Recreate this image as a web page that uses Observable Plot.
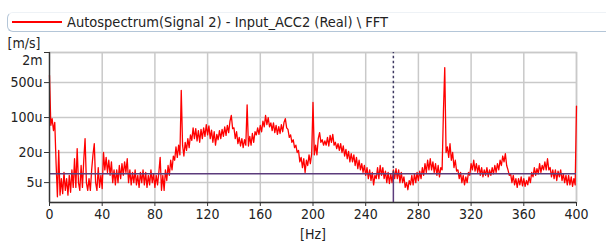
<!DOCTYPE html>
<html><head><meta charset="utf-8">
<script src="https://cdn.jsdelivr.net/npm/d3@7"></script>
<script src="https://cdn.jsdelivr.net/npm/@observablehq/plot@0.6"></script>
<style>
body{margin:0;background:#fff;}
#wrap{position:relative;width:606px;height:242px;font-family:"DejaVu Sans Condensed","DejaVu Sans",sans-serif;color:#222;}
#legend{position:absolute;left:7px;top:12px;width:599px;height:20px;box-sizing:border-box;border:1px solid #b4c6d8;border-top-color:#eef2f6;border-right:none;border-radius:6px 0 0 6px;}
#legend .sw{position:absolute;left:4px;top:8px;width:50px;height:1.5px;background:#ff0000;}
#legend .tx{position:absolute;left:59px;top:0px;font-size:14.5px;line-height:18px;white-space:nowrap;}
#chart{position:absolute;left:0;top:0;}
</style>
</head><body>
<div id="wrap">
  <div id="chart"></div>
  <div id="legend"><span class="sw"></span><span class="tx">Autospectrum(Signal 2) - Input_ACC2 (Real) \ FFT</span></div>
</div>
<script>
// Autospectrum amplitude, µ(m/s), at 1 Hz steps from 0 to 400 Hz
const amplitudeMicro = [
700,70,95,55,80,12,2.6,22,2.8,6,
3,8,3.5,6,2.8,7,3.2,9,4,15,
4,24,5,3.5,11,4,14,38,5,3.5,
6,3.5,9,18,30,5,3.5,10,4,7,
3.8,20,9,16,8,14,7,13,5,9,
4.5,9,5,11,6,12,7,13,8,15,
5,9,4.5,8,5,9,4.5,7,4,8,
5,9,4.5,8,4,7,4.5,9,5,7.5,
4,7,4.5,8,16,3.5,7,3.5,9,5.5,
11,7,14,9,17,14,26,16,28,18,
350,28,17,32,22,38,25,45,35,62,
38,60,34,55,32,58,38,62,42,72,
45,68,38,56,32,52,28,46,36,55,
38,58,42,65,44,70,50,85,110,60,
62,38,52,30,40,27,38,25,36,28,
180,27,42,28,48,32,52,45,62,46,
70,52,85,65,110,72,100,65,78,55,
78,50,70,46,66,48,72,52,80,95,
62,58,40,45,32,36,25,28,20,22,
13,16,10,15,8,14,11,18,12,19,
200,18,28,18,38,50,32,36,28,34,
28,40,27,44,32,46,28,32,24,30,
22,30,20,27,17,23,15,21,13,19,
13,18,11,16,9.5,14,9,12,8,11,
7,10,6,9,5.5,8,4.5,7,6,10,
6,11,7,10,6,8.5,5,8,4.8,7.5,
5,9,6,9.5,6,9,5,8,5,6.5,
4,5,3.6,5.5,4.5,7,4.5,7.5,5,8,
5.5,8.5,6,10,7,12,8,14,9,15,
9,13,8,12,7,11,6.5,10,9,130,
1000,20,26,16,30,14,20,10,14,8.5,
9,6,8,5,7,4.5,6.5,5,8,7,
12,9,14,8.5,12,8,11,7,10,6.5,
9,7,10,6.5,9,7,10,7.5,11,8,
12,9,14,11,17,13,19,11,9,7,
7.5,5,7,4.5,6,4,6,4.5,6.5,4.3,
6,4.2,5.5,4.5,6.5,5,8,6.5,10,7,
9.5,7.5,12,8,11,9,13,9,15,9,
10,6.5,9,6,9,5.5,8.5,6.5,9,5.5,
7.5,5,7,4.5,7,4.5,6.5,4.2,6,4.5,
170
];
const freqStepHz = 1;
const xTicks = [0,40,80,120,160,200,240,280,320,360,400];
const yTicks = [5e-6,20e-6,100e-6,500e-6,2e-3];
const yTickLabels = ["5u","20u","100u","500u","2m"];
const yDomain = [2e-6, 2e-3];
const xDomain = [0, 400];
const refLevel = 7.5e-6;
const cursorHz = 261;

const spectrum = amplitudeMicro.map((v, i) => ({hz: i * freqStepHz, amp: v * 1e-6}));
const yLabelRows = yTicks.map((t, i) => ({value: t, label: yTickLabels[i], top: i === yTicks.length - 1}));

const grid = "#c9c9c9";
const font = "DejaVu Sans Condensed, DejaVu Sans, sans-serif";
const chart = Plot.plot({
  width: 606, height: 242,
  marginTop: 52, marginBottom: 40, marginLeft: 49, marginRight: 30,
  style: {fontFamily: font, fontSize: "14px", color: "#222", background: "transparent"},
  x: {type: "linear", domain: xDomain},
  y: {type: "log", domain: yDomain},
  marks: [
    Plot.gridX(xTicks, {stroke: grid, strokeOpacity: 1, strokeWidth: 1.5}),
    Plot.gridY(yTicks, {stroke: grid, strokeOpacity: 1, strokeWidth: 1.5}),
    Plot.frame({stroke: grid, strokeWidth: 1.5}),
    Plot.line(spectrum, {x: "hz", y: "amp", stroke: "#ff0000", strokeWidth: 1.3}),
    Plot.ruleY([refLevel], {stroke: "#5c3c7c", strokeWidth: 1.5}),
    Plot.ruleX([{x: cursorHz, y1: refLevel, y2: yDomain[1]}], {x: "x", y1: "y1", y2: "y2", stroke: "#3f3a63", strokeWidth: 1.5, strokeDasharray: "2.5,2.5"}),
    Plot.ruleX([{x: cursorHz, y1: yDomain[0], y2: refLevel}], {x: "x", y1: "y1", y2: "y2", stroke: "#5c3c7c", strokeWidth: 1.5}),
    Plot.ruleX([xDomain[0]], {stroke: "#333", strokeWidth: 1.3}),
    Plot.ruleY([yDomain[0]], {stroke: "#333", strokeWidth: 1.3}),
    Plot.axisX(xTicks, {tickSize: 4, tickPadding: 3, label: null, stroke: "#333"}),
    Plot.axisY(yTicks, {tickSize: 5, label: null, text: null, stroke: "#333"}),
    Plot.text(yLabelRows.filter(d => !d.top), {y: "value", text: "label", frameAnchor: "left", textAnchor: "end", dx: -7}),
    Plot.text(yLabelRows.filter(d => d.top), {y: "value", text: "label", frameAnchor: "left", textAnchor: "end", dx: -7, dy: 8}),
    Plot.text(["[m/s]"], {frameAnchor: "top-left", dx: -42, dy: -5, textAnchor: "start", lineAnchor: "bottom"}),
    Plot.text(["[Hz]"], {frameAnchor: "bottom", dy: 32, lineAnchor: "middle"})
  ]
});
document.getElementById("chart").appendChild(chart);
</script>
</body></html>
